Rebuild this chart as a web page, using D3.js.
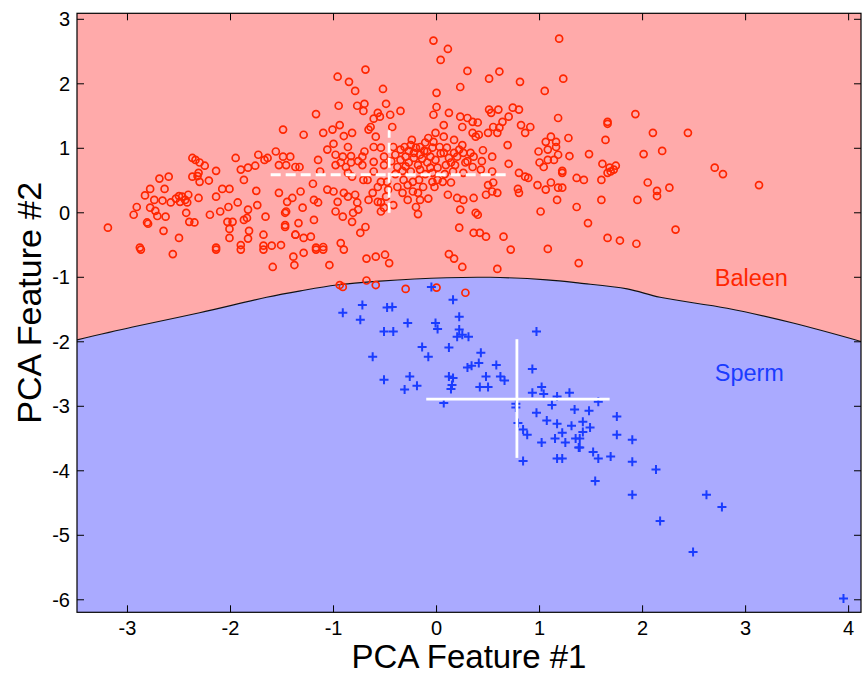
<!DOCTYPE html>
<html><head><meta charset="utf-8">
<script src="https://cdn.jsdelivr.net/npm/d3@7"></script>
<style>body{margin:0;background:#fff}svg{display:block}text{font-family:"Liberation Sans",Arial,sans-serif}</style>
</head><body><svg id="c" width="862" height="677"></svg>
<script>
const xTicks=[-3,-2,-1,0,1,2,3,4];
const yTicks=[-6,-5,-4,-3,-2,-1,0,1,2,3];
const classLabels=["Baleen","Sperm"];
const axisTitles=["PCA Feature #1","PCA Feature #2"];
// decision boundary
const boundary=[[-3.49,-1.97],[-2.95,-1.77],[-2.30,-1.55],[-1.65,-1.31],[-1.32,-1.21],[-0.97,-1.12],[-0.55,-1.06],[0.10,-1.006],[0.52,-1.0],[1.07,-1.04],[1.39,-1.09],[1.85,-1.18],[2.17,-1.31],[2.82,-1.48],[3.46,-1.71],[4.13,-2.0]];
// class mean +/- spread crosses
const baleenCross={cx:-0.46,cy:0.59,x0:-1.61,x1:0.71,y0:0.0,y1:1.28};
const spermCross={cx:0.78,cy:-2.89,x0:-0.10,x1:1.68,y0:-3.80,y1:-1.96};
const baleen=[[-3.19,-0.23],[-2.94,-0.03],[-2.91,0.09],[-2.83,0.27],[-2.78,0.37],[-2.69,0.53],[-2.60,0.56],[-2.64,0.37],[-2.74,0.20],[-2.78,0.08],[-2.73,0.03],[-2.66,0.19],[-2.63,-0.06],[-2.71,-0.05],[-2.81,-0.15],[-2.80,-0.17],[-2.65,-0.28],[-2.50,-0.39],[-2.58,0.16],[-2.53,0.22],[-2.50,0.26],[-2.47,0.25],[-2.44,0.20],[-2.49,0.17],[-2.42,0.16],[-2.41,0.28],[-2.43,0.00],[-2.40,-0.14],[-2.35,-0.15],[-2.31,0.23],[-2.37,0.85],[-2.34,0.82],[-2.30,0.78],[-2.25,0.73],[-2.37,0.56],[-2.32,0.57],[-2.30,0.48],[-2.21,0.50],[-2.31,0.62],[-2.20,-0.03],[-2.14,0.65],[-2.14,0.25],[-2.14,-0.54],[-2.88,-0.54],[-2.08,0.37],[-2.10,0.02],[-2.01,0.37],[-1.95,0.85],[-2.02,0.09],[-2.01,-0.25],[-2.03,-0.14],[-1.98,-0.14],[-1.93,0.16],[-2.01,-0.39],[-1.90,0.67],[-1.87,0.51],[-1.83,0.70],[-1.83,0.05],[-1.84,-0.08],[-1.87,-0.11],[-1.82,-0.28],[-1.83,-0.40],[-1.90,-0.50],[-1.76,0.73],[-1.73,0.90],[-1.67,0.82],[-1.75,0.34],[-1.74,0.12],[-1.66,-0.06],[-1.68,-0.34],[-1.68,-0.51],[-1.60,-0.51],[-1.64,0.85],[-1.56,0.95],[-1.49,1.29],[-1.53,0.74],[-1.49,0.87],[-1.42,0.87],[-1.46,0.74],[-1.37,0.71],[-1.53,0.31],[-1.47,-0.19],[-1.46,0.02],[-1.37,-0.34],[-1.34,-0.16],[-1.51,-0.50],
[-1.29,1.21],[-1.17,1.53],[-0.96,2.11],[-0.85,2.03],[-0.79,1.89],[-0.69,2.22],[-0.95,1.66],[-0.77,1.66],[-0.71,1.58],[-0.70,1.69],[-0.52,1.92],[-0.49,1.69],[-0.57,1.55],[-0.61,1.46],[-0.55,1.49],[-0.64,1.33],[-0.66,1.29],[-0.35,1.58],[-0.45,1.52],[-0.43,1.33],[-1.10,1.24],[-1.01,1.29],[-0.94,1.36],[-0.90,1.19],[-0.82,1.24],[-0.86,1.02],[-1.00,1.07],[-1.06,0.98],[-1.15,0.82],[-1.33,0.71],[-1.13,0.64],[-0.98,0.74],[-0.93,0.78],[-0.88,0.71],[-0.83,0.88],[-0.83,0.78],[-0.91,0.87],[-0.86,0.62],[-0.82,0.56],[-0.72,0.87],[-0.71,0.51],[-0.67,0.51],[-0.72,0.74],[-0.61,0.79],[-0.61,1.02],[-0.59,1.18],[-0.54,1.01],[-0.51,0.87],[-0.51,0.74],[-0.61,0.64],[-0.54,0.48],[-0.57,0.40],[-0.62,0.31],[-0.48,0.48],[-0.47,0.36],[-0.49,0.25],[-0.54,0.16],[-0.51,0.08],[-0.57,0.17],[-0.54,0.02],[-0.42,1.02],[-0.40,0.90],[-0.35,0.98],[-0.31,1.02],[-0.30,0.87],[-0.25,1.05],[-0.20,1.01],[-0.16,1.02],[-0.11,1.09],[-0.08,1.16],[-0.03,1.10],[-0.04,1.01],[-0.09,0.95],[-0.16,0.90],[-0.22,0.85],[-0.27,0.78],[-0.35,0.82],[-0.38,0.71],[-0.33,0.65],[-0.25,0.64],[-0.18,0.74],[-0.16,0.67],[-0.09,0.78],[-0.06,0.87],[-0.01,0.82],[0.01,0.70],[-0.04,0.62],[-0.11,0.60],[-0.17,0.51],[-0.23,0.48],[-0.28,0.43],[-0.32,0.51],[-0.38,0.40],[-0.33,0.31],[-0.28,0.20],[-0.23,0.33],[-0.18,0.31],[-0.16,0.20],[-0.20,0.09],[-0.18,-0.02],[-0.08,0.22],[-0.13,0.40],[-0.04,0.48],[-0.01,1.24],[-0.03,1.52],[0.00,1.64],[0.07,1.36],[0.12,1.55],[0.23,1.49],[0.30,1.47],[0.25,1.33],[0.17,1.13],[0.07,1.18],[0.03,1.02],[0.10,1.01],[0.17,0.93],[0.07,0.93],[0.12,0.85],[0.20,0.87],[0.09,0.74],[0.14,0.78],[0.18,0.74],[0.16,0.64],[0.25,1.05],[0.26,0.93],[0.33,0.93],[0.36,0.87],[0.28,0.78],[0.35,1.24],[0.35,1.41],[0.40,1.40],[0.41,1.21],[0.38,1.18],[0.50,1.24],[0.53,1.55],[0.51,1.60],[0.60,1.60],[0.55,1.33],[0.61,1.32],[0.59,1.24],[0.64,1.41],[0.70,1.49],[0.74,1.63],[0.80,1.60],[0.82,1.36],[0.86,1.24],[0.91,1.33],[0.69,1.05],[0.54,0.87],[0.26,0.62],[0.35,0.71],[0.43,0.67],[0.54,0.64],[0.70,0.76],[0.80,0.62],[0.86,0.56],[0.89,0.54],[0.55,0.47],[0.50,0.43],[0.54,0.33],[0.59,0.31],[0.48,0.28],[0.36,0.23],[0.38,0.00],[0.40,-0.03],[0.23,0.05],[0.20,0.23],[0.11,0.28],[0.06,0.48],[0.01,0.51],[0.14,0.47],[0.26,0.20],[0.22,-0.23],[0.36,-0.31],[0.42,-0.31],[0.48,-0.37],[0.65,-0.37],[0.72,-0.57],[1.08,-0.56],[0.98,0.43],[1.06,0.36],[1.11,0.47],[1.18,0.39],[1.17,0.20],[1.01,0.02],[1.00,0.78],[0.99,0.95],[1.08,0.98],[1.11,1.18],[1.06,1.10],[1.16,1.10],[1.16,1.02],[1.18,0.90],[1.14,0.82],[1.08,0.82],[1.04,0.71],[1.28,1.16],[1.29,0.88],[1.22,0.62],[1.36,0.54],[1.36,0.09],[1.18,1.47],[1.05,1.89],[0.23,1.95],[0.30,2.20],[0.51,2.08],[0.61,2.19],[0.81,2.03],[0.00,1.86],[1.19,2.70],[1.23,2.08],[-0.03,2.67],[0.11,2.54],[0.04,2.37],
[-1.32,0.33],[-1.45,0.17],[-1.40,0.23],[-1.47,0.00],[-1.30,0.08],[-1.19,0.20],[-1.15,0.16],[-1.19,-0.11],[-1.06,0.36],[-1.00,0.33],[-0.96,0.17],[-0.98,0.02],[-0.90,0.31],[-0.86,0.25],[-0.79,0.28],[-0.77,0.16],[-0.76,0.05],[-0.81,0.00],[-0.91,-0.06],[-0.82,-0.14],[-0.69,-0.22],[-0.74,-0.31],[-1.47,-0.22],[-1.37,-0.34],[-1.29,-0.39],[-1.22,-0.37],[-1.10,-0.53],[-1.17,-0.54],[-0.93,-0.47],
[-1.39,-0.68],[-1.38,-0.81],[-1.29,-0.62],[-1.17,-0.57],[-1.10,-0.57],[-1.04,-0.81],[-0.90,-0.57],[-0.68,-0.71],[-0.59,-0.68],[-0.50,-0.65],[-0.46,-0.78],[-0.94,-1.12],[-0.91,-1.15],[-0.68,-1.05],[-0.59,-1.12],[-0.30,-1.18],[0.00,-1.16],[0.28,-1.24],[0.12,-0.64],[0.17,-0.71],[0.25,-0.84],[0.59,-0.87],[1.38,-0.78],[-2.87,-0.57],[-2.56,-0.64],[-2.14,-0.57],[-1.90,-0.57],[-1.68,-0.57],[-1.59,-0.84],
[1.22,0.65],[1.43,0.51],[1.22,0.39],[1.47,-0.16],[1.66,-0.39],[1.78,-0.43],[1.94,-0.48],[2.32,-0.26],[1.48,0.91],[1.61,0.76],[1.60,0.51],[1.60,0.20],[1.64,1.13],[1.66,1.41],[1.66,1.38],[1.93,1.53],[1.66,0.62],[1.69,0.64],[1.72,0.67],[1.74,0.73],[1.68,0.70],[2.01,0.91],[2.10,1.24],[2.19,0.96],[2.05,0.47],[2.14,0.34],[2.14,0.26],[2.26,0.39],[1.95,0.20],[2.44,1.24],[2.70,0.70],[2.78,0.60],[3.13,0.43],[0.79,0.37],[0.80,0.31],
[-0.27,0.96],[-0.22,0.93],[-0.14,0.84],[-0.06,0.70],[0.04,0.92],[-0.12,0.96],[-0.30,0.72],[-0.44,0.80],[-0.40,0.60],[-0.02,0.40],[0.08,0.60],[-0.24,1.13],[0.22,0.98],[0.30,0.80],[0.45,0.97],[0.44,0.80],[-0.70,0.95],[-0.76,0.80],[-0.98,0.90],[-1.20,0.45],[-0.66,0.20],[-0.42,0.12]];
const sperm=[[-0.91,-1.55],[-0.72,-1.43],[-0.74,-1.66],[-0.48,-1.47],[-0.43,-1.46],[-0.51,-1.84],[-0.42,-1.84],[-0.28,-1.71],[-0.62,-2.23],[-0.51,-2.59],[-0.26,-2.54],[-0.31,-2.74],[-0.19,-2.68],[-0.14,-2.08],[-0.08,-2.23],[-0.05,-1.15],[-0.01,-1.71],[0.01,-1.80],[0.16,-1.35],[0.22,-1.61],[0.22,-1.81],[0.20,-1.92],[0.25,-1.89],[0.31,-1.92],[0.12,-2.09],[0.43,-2.17],[0.41,-2.33],[0.34,-2.37],[0.30,-2.40],[0.58,-2.36],[0.12,-2.54],[0.16,-2.56],[0.15,-2.67],[0.14,-2.73],[0.07,-2.95],[0.48,-2.54],[0.42,-2.70],[0.50,-2.70],[0.62,-2.54],[0.66,-2.60],[0.97,-1.84],[0.93,-2.42],[1.02,-2.70],[0.93,-2.79],[1.04,-2.81],[1.17,-2.85],[1.29,-2.79],[0.77,-2.96],[0.77,-3.02],[1.12,-2.98],[1.34,-3.05],[0.97,-3.10],[0.79,-3.26],[1.07,-3.22],[1.17,-3.27],[1.31,-3.30],[0.84,-3.36],[0.88,-3.44],[1.22,-3.41],[1.02,-3.56],[1.15,-3.50],[1.25,-3.56],[1.35,-3.50],[1.38,-3.64],[0.84,-3.85],[1.17,-3.81],[1.22,-3.81],[1.57,-2.93],[1.48,-3.07],[1.75,-3.16],[1.42,-3.24],[1.42,-3.40],[1.49,-3.33],[1.39,-3.50],[1.39,-3.64],[1.75,-3.44],[1.90,-3.52],[1.52,-3.71],[1.57,-3.81],[1.69,-3.78],[1.90,-3.86],[1.54,-4.16],[2.13,-3.98],[1.90,-4.37],[2.62,-4.37],[2.77,-4.56],[2.17,-4.78],[2.49,-5.26],[3.95,-5.98]];

const W=862,H=677,L=77,R=861,T=13.3,B=612.3;
const x=d3.scaleLinear().domain([-3.49,4.12]).range([L,R]);
const y=d3.scaleLinear().domain([-6.194,3.093]).range([B,T]);
const svg=d3.select("#c");
const defs=svg.append("defs");
defs.append("clipPath").attr("id","clip").append("rect").attr("x",L).attr("y",T).attr("width",R-L).attr("height",B-T);
const g=svg.append("g").attr("clip-path","url(#clip)");
const curve=d3.curveCatmullRom;
g.append("path").datum(boundary).attr("fill","#ffaaaa")
 .attr("d",d3.area().x(d=>x(d[0])).y0(T).y1(d=>y(d[1])).curve(curve));
g.append("path").datum(boundary).attr("fill","#aaaaff")
 .attr("d",d3.area().x(d=>x(d[0])).y0(B).y1(d=>y(d[1])).curve(curve));
g.append("path").datum(boundary).attr("fill","none").attr("stroke","#111").attr("stroke-width",1.1)
 .attr("d",d3.line().x(d=>x(d[0])).y(d=>y(d[1])).curve(curve));

g.selectAll("circle.b").data(baleen).join("circle").attr("class","b")
 .attr("cx",d=>x(d[0])).attr("cy",d=>y(d[1])).attr("r",3.5)
 .attr("fill","none").attr("stroke","#ff2600").attr("stroke-width",1.7);
const ps=4.5;
g.selectAll("path.s").data(sperm).join("path").attr("class","s")
 .attr("d",d=>{const cx=x(d[0]),cy=y(d[1]);return `M${cx-ps},${cy}H${cx+ps}M${cx},${cy-ps}V${cy+ps}`;})
 .attr("stroke","#1a3cff").attr("stroke-width",2).attr("fill","none");

function cross(c,dash){
 const gg=g.append("g").attr("stroke","#fff").attr("stroke-width",2.8).attr("fill","none");
 if(dash)gg.attr("stroke-dasharray",dash);
 gg.append("line").attr("x1",x(c.x0)).attr("x2",x(c.x1)).attr("y1",y(c.cy)).attr("y2",y(c.cy));
 gg.append("line").attr("x1",x(c.cx)).attr("x2",x(c.cx)).attr("y1",y(c.y0)).attr("y2",y(c.y1));
}
cross(baleenCross,"10,5");
cross(spermCross,null);

svg.append("text").attr("x",x(2.70)).attr("y",y(-1.135))
 .attr("fill","#ff2600").attr("font-size",23.5).text(classLabels[0]);
svg.append("text").attr("x",x(2.70)).attr("y",y(-2.61))
 .attr("fill","#1a3cff").attr("font-size",23.5).text(classLabels[1]);

// frame and ticks
const ax=svg.append("g");
ax.append("rect").attr("x",L).attr("y",T).attr("width",R-L).attr("height",B-T).attr("fill","none").attr("stroke","#000").attr("stroke-width",1.2);
const tl=7;
xTicks.forEach(t=>{
 ax.append("line").attr("x1",x(t)).attr("x2",x(t)).attr("y1",B).attr("y2",B-tl).attr("stroke","#000");
 ax.append("line").attr("x1",x(t)).attr("x2",x(t)).attr("y1",T).attr("y2",T+tl).attr("stroke","#000");
 ax.append("text").attr("x",x(t)).attr("y",635).attr("text-anchor","middle").attr("font-size",20).text(t);
});
yTicks.forEach(t=>{
 ax.append("line").attr("x1",L).attr("x2",L+tl).attr("y1",y(t)).attr("y2",y(t)).attr("stroke","#000");
 ax.append("line").attr("x1",R).attr("x2",R-tl).attr("y1",y(t)).attr("y2",y(t)).attr("stroke","#000");
 ax.append("text").attr("x",70).attr("y",y(t)+7).attr("text-anchor","end").attr("font-size",20).text(t);
});
svg.append("text").attr("x",(L+R)/2).attr("y",668).attr("text-anchor","middle").attr("font-size",33).text(axisTitles[0]);
svg.append("text").attr("transform",`translate(41,${(T+B)/2-10}) rotate(-90)`).attr("text-anchor","middle").attr("font-size",34).text(axisTitles[1]);
</script></body></html>
